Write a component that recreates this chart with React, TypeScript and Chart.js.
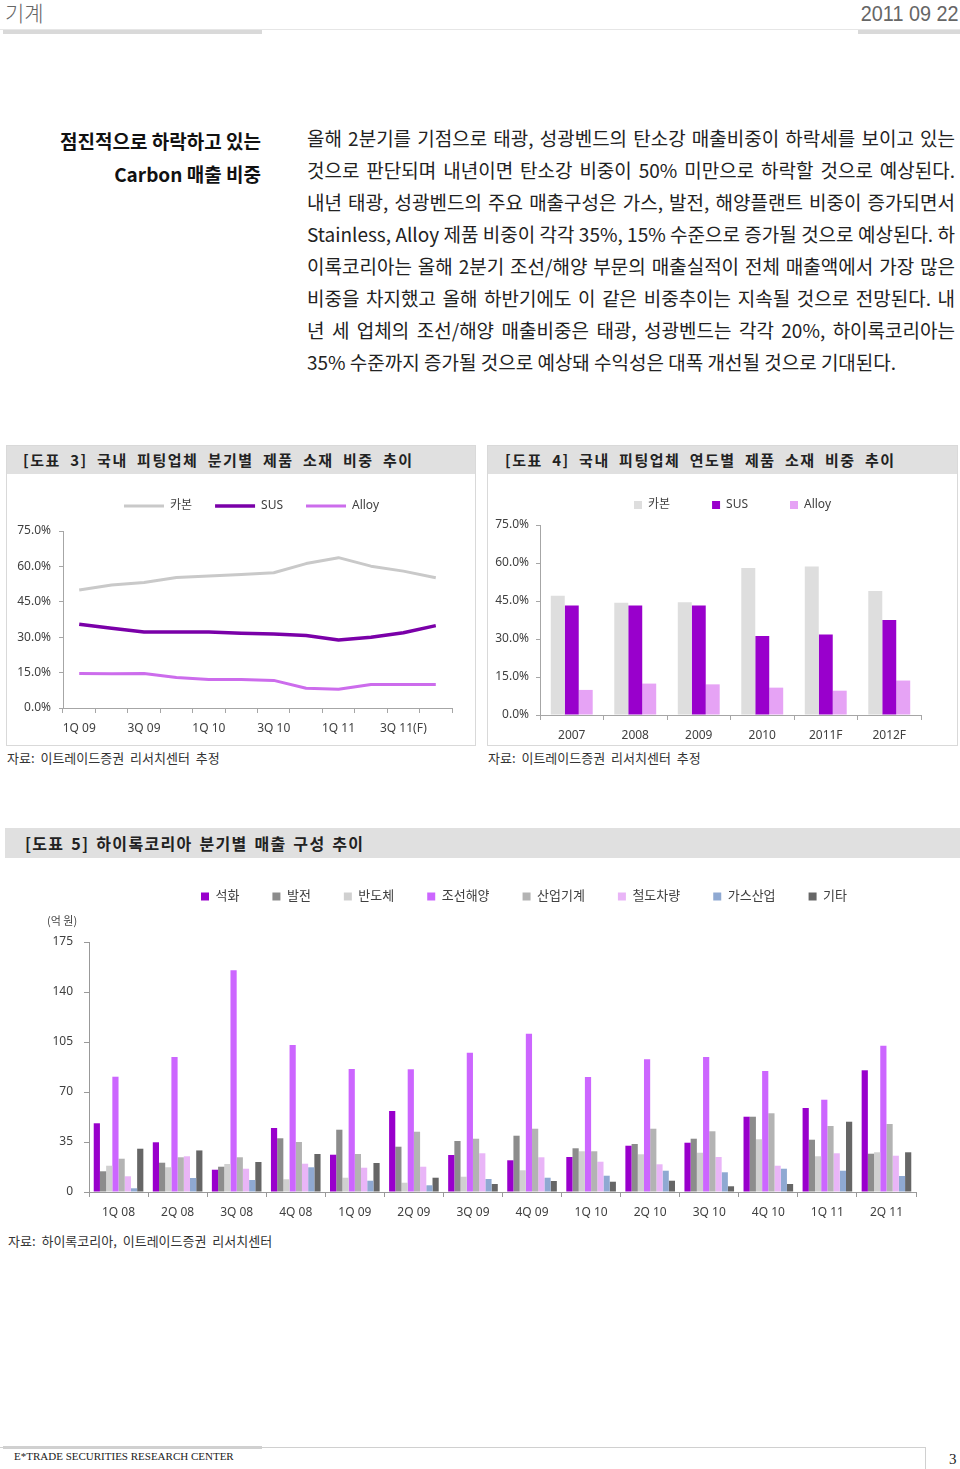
import React, { useEffect, useRef } from 'react';
import { Chart, registerables } from 'chart.js';

Chart.register(...registerables);

const LATIN = "'Noto Sans', 'Noto Sans CJK KR', sans-serif";
const HANGUL = "'Noto Sans CJK KR', 'Noto Sans', sans-serif";
const TEXT = '#404040';
const AXIS = '#a6a6a6';

// [도표 3] 국내 피팅업체 분기별 제품 소재 비중 추이 (%)
const quarterLabels3 = ['1Q 09', '2Q 09', '3Q 09', '4Q 09', '1Q 10', '2Q 10', '3Q 10', '4Q 10', '1Q 11', '2Q 11', '3Q 11(F)', '4Q 11(F)'];
const carbonShareQ = [50.0, 52.1, 53.2, 55.3, 55.9, 56.6, 57.3, 61.2, 63.7, 60.1, 58.0, 55.2];
const susShareQ = [35.5, 33.8, 32.2, 32.2, 32.2, 31.7, 31.4, 30.7, 28.8, 30.0, 31.9, 34.9];
const alloyShareQ = [14.6, 14.5, 14.6, 12.9, 12.1, 12.1, 11.7, 8.4, 7.9, 10.0, 10.0, 10.0];

// [도표 4] 국내 피팅업체 연도별 제품 소재 비중 추이 (%)
const yearLabels4 = ['2007', '2008', '2009', '2010', '2011F', '2012F'];
const carbonShareY = [47.1, 44.3, 44.5, 58.0, 58.6, 48.9];
const susShareY = [43.2, 43.2, 43.2, 31.2, 31.8, 37.5];
const alloyShareY = [9.9, 12.4, 12.1, 10.8, 9.6, 13.6];

// [도표 5] 하이록코리아 분기별 매출 구성 추이 (억 원)
const quarterLabels5 = ['1Q 08', '2Q 08', '3Q 08', '4Q 08', '1Q 09', '2Q 09', '3Q 09', '4Q 09', '1Q 10', '2Q 10', '3Q 10', '4Q 10', '1Q 11', '2Q 11'];
const petrochem = [48.1, 34.8, 15.6, 44.8, 26.1, 56.7, 25.9, 22.2, 24.5, 32.4, 34.5, 52.7, 58.8, 85.2];
const power = [14.5, 20.5, 17.7, 37.6, 43.6, 31.7, 35.7, 39.4, 30.6, 33.6, 37.3, 52.7, 36.6, 26.8];
const semicon = [18.4, 17.3, 19.6, 8.9, 10.0, 6.5, 10.7, 15.2, 28.5, 26.4, 27.5, 36.9, 25.0, 27.8];
const shipOffshore = [80.7, 94.5, 155.2, 102.9, 86.1, 85.9, 97.5, 110.8, 80.5, 92.9, 94.5, 84.7, 64.6, 102.4];
const machinery = [23.3, 24.3, 24.3, 35.0, 26.6, 42.2, 37.3, 44.3, 28.5, 44.3, 42.5, 55.1, 46.2, 47.6];
const railway = [11.0, 25.0, 16.3, 19.8, 17.0, 17.7, 27.1, 24.3, 21.2, 19.4, 24.5, 18.4, 27.1, 25.4];
const gasIndustry = [2.6, 9.8, 8.4, 17.3, 7.9, 4.7, 9.1, 10.0, 11.4, 14.9, 13.8, 16.3, 14.9, 11.2];
const others = [30.3, 29.1, 21.0, 26.6, 20.3, 10.0, 5.6, 7.7, 7.2, 7.9, 4.0, 5.6, 49.2, 27.8];

const bodyLines = [
  '올해 2분기를 기점으로 태광, 성광벤드의 탄소강 매출비중이 하락세를 보이고 있는',
  '것으로 판단되며 내년이면 탄소강 비중이 50% 미만으로 하락할 것으로 예상된다.',
  '내년 태광, 성광벤드의 주요 매출구성은 가스, 발전, 해양플랜트 비중이 증가되면서',
  'Stainless, Alloy 제품 비중이 각각 35%, 15% 수준으로 증가될 것으로 예상된다. 하',
  '이록코리아는 올해 2분기 조선/해양 부문의 매출실적이 전체 매출액에서 가장 많은',
  '비중을 차지했고 올해 하반기에도 이 같은 비중추이는 지속될 것으로 전망된다. 내',
  '년 세 업체의 조선/해양 매출비중은 태광, 성광벤드는 각각 20%, 하이록코리아는',
  '35% 수준까지 증가될 것으로 예상돼 수익성은 대폭 개선될 것으로 기대된다.',
];

function legendTweak(extraHeight: number, shiftX: number) {
  return {
    id: 'legendTweak',
    beforeInit(chart: any) {
      const legend = chart.legend;
      if (!legend) return;
      const fit = legend.fit;
      legend.fit = function () {
        fit.call(legend);
        legend.height += extraHeight;
      };
    },
    afterLayout(chart: any) {
      const legend = chart.legend;
      if (!legend) return;
      legend.left += shiftX;
      legend.right += shiftX;
    },
  };
}

const tickFont = { family: LATIN, size: 12 };

function pctAxis(width: number, pad: number) {
  return {
    min: 0,
    max: 75,
    ticks: { stepSize: 15, padding: pad, color: TEXT, font: tickFont, callback: (v: any) => Number(v).toFixed(1) + '%' },
    grid: { drawOnChartArea: false, tickLength: 4, color: AXIS },
    border: { color: AXIS },
    afterFit: (s: any) => { s.width = width; },
  };
}

function makeChart3(): any {
  return {
    type: 'line',
    data: {
      labels: quarterLabels3,
      datasets: [
        { label: '카본', data: carbonShareQ, borderColor: '#c9c9c9', backgroundColor: '#c9c9c9', borderWidth: 3, pointRadius: 0, tension: 0, borderJoinStyle: 'round' },
        { label: 'SUS', data: susShareQ, borderColor: '#7a00a8', backgroundColor: '#7a00a8', borderWidth: 3.5, pointRadius: 0, tension: 0, borderJoinStyle: 'round' },
        { label: 'Alloy', data: alloyShareQ, borderColor: '#cc6cec', backgroundColor: '#cc6cec', borderWidth: 3, pointRadius: 0, tension: 0, borderJoinStyle: 'round' },
      ],
    },
    options: {
      animation: false,
      responsive: false,
      events: [],
      layout: { padding: { left: 0, right: 23, top: 0, bottom: 0 } },
      plugins: {
        tooltip: { enabled: false },
        legend: {
          position: 'top',
          labels: { usePointStyle: true, pointStyle: 'line', pointStyleWidth: 40, padding: 23, color: TEXT, font: tickFont },
        },
      },
      scales: {
        x: {
          offset: true,
          grid: { offset: true, drawOnChartArea: false, tickLength: 5, color: AXIS },
          border: { color: AXIS },
          ticks: {
            autoSkip: false, maxRotation: 0, padding: 8, color: TEXT, font: tickFont,
            callback: (_v: any, i: number) => (i % 2 === 0 ? quarterLabels3[i] : ''),
          },
          afterFit: (s: any) => { s.height = 37; },
        },
        y: pctAxis(56, 8),
      },
    },
    plugins: [legendTweak(9, 22)],
  };
}

function makeChart4(): any {
  return {
    type: 'bar',
    data: {
      labels: yearLabels4,
      datasets: [
        { label: '카본', data: carbonShareY, backgroundColor: '#dedede' },
        { label: 'SUS', data: susShareY, backgroundColor: '#9900cc' },
        { label: 'Alloy', data: alloyShareY, backgroundColor: '#e6a3f5' },
      ],
    },
    options: {
      animation: false,
      responsive: false,
      events: [],
      layout: { padding: { left: 0, right: 36, top: 0, bottom: 0 } },
      datasets: { bar: { barPercentage: 1, categoryPercentage: 0.66 } },
      plugins: {
        tooltip: { enabled: false },
        legend: {
          position: 'top',
          labels: { boxWidth: 8, boxHeight: 8, padding: 42, color: TEXT, font: tickFont },
        },
      },
      scales: {
        x: {
          grid: { offset: true, drawOnChartArea: false, tickLength: 5, color: AXIS },
          border: { color: AXIS },
          ticks: { autoSkip: false, maxRotation: 0, padding: 8, color: TEXT, font: tickFont },
          afterFit: (s: any) => { s.height = 30; },
        },
        y: pctAxis(52, 7),
      },
    },
    plugins: [legendTweak(4, 28)],
  };
}

function makeChart5(): any {
  const series: [string, number[], string][] = [
    ['석화', petrochem, '#9900cc'],
    ['발전', power, '#8c8c8c'],
    ['반도체', semicon, '#d0d0d0'],
    ['조선해양', shipOffshore, '#cc66ff'],
    ['산업기계', machinery, '#b3b3b3'],
    ['철도차량', railway, '#e9b5f7'],
    ['가스산업', gasIndustry, '#8fa9d2'],
    ['기타', others, '#666666'],
  ];
  return {
    type: 'bar',
    data: {
      labels: quarterLabels5,
      datasets: series.map(([label, data, color]) => ({ label, data, backgroundColor: color })),
    },
    options: {
      animation: false,
      responsive: false,
      events: [],
      layout: { padding: { left: 0, right: 44, top: 0, bottom: 0 } },
      datasets: { bar: { barPercentage: 1, categoryPercentage: 0.84 } },
      plugins: {
        tooltip: { enabled: false },
        legend: {
          position: 'top',
          labels: { boxWidth: 8, boxHeight: 8, padding: 33, color: TEXT, font: { family: LATIN, size: 13 } },
        },
      },
      scales: {
        x: {
          grid: { offset: true, drawOnChartArea: false, tickLength: 5, color: '#999999' },
          border: { color: '#999999' },
          ticks: { autoSkip: false, maxRotation: 0, padding: 8, color: TEXT, font: tickFont },
          afterFit: (s: any) => { s.height = 38; },
        },
        y: {
          min: 0,
          max: 175,
          ticks: { stepSize: 35, padding: 11, color: TEXT, font: tickFont },
          grid: { drawOnChartArea: false, tickLength: 5, color: '#999999' },
          border: { color: '#999999' },
          afterFit: (s: any) => { s.width = 89; },
        },
      },
    },
    plugins: [legendTweak(29, 66)],
  };
}

function ChartCanvas({ make, left, top, width, height }: { make: () => any; left: number; top: number; width: number; height: number }) {
  const ref = useRef<HTMLCanvasElement>(null);
  useEffect(() => {
    const chart = new Chart(ref.current as HTMLCanvasElement, make());
    return () => chart.destroy();
  }, []);
  return (
    <canvas
      ref={ref}
      width={width}
      height={height}
      style={{ position: 'absolute', left, top, width, height, display: 'block' }}
    />
  );
}

const abs = (o: React.CSSProperties): React.CSSProperties => ({ position: 'absolute', ...o });

function TitleBar({ left, top, width, text, textLeft }: { left: number; top: number; width: number; text: string; textLeft: number }) {
  return (
    <>
      <div style={abs({ left, top, width, height: 28, background: '#e0e0e0' })} />
      <div
        style={abs({
          left: textLeft, top, height: 28, lineHeight: '28px', fontSize: 15, fontWeight: 700, color: '#222',
          letterSpacing: 1.5, wordSpacing: 4.5, whiteSpace: 'nowrap', fontFamily: HANGUL,
        })}
      >
        {text}
      </div>
    </>
  );
}

const sourceStyle = (left: number, top: number): React.CSSProperties =>
  abs({ left, top, fontSize: 13, lineHeight: '16px', color: '#333', whiteSpace: 'nowrap', fontFamily: HANGUL, wordSpacing: 3 });

export default function App() {
  return (
    <div style={{ position: 'absolute', left: 0, top: 0, width: 960, height: 1469, overflow: 'hidden', background: '#fff', fontFamily: HANGUL }}>
      {/* header */}
      <div style={abs({ left: 5, top: 0, fontSize: 21, lineHeight: '24px', color: '#666', fontWeight: 300 })}>기계</div>
      <div
        style={abs({
          right: 2, top: 2, fontSize: 22, lineHeight: '24px', color: '#666', fontFamily: "'Liberation Sans', Arial, sans-serif",
          transform: 'scaleX(0.9)', transformOrigin: 'right top', whiteSpace: 'nowrap',
        })}
      >
        2011 09 22
      </div>
      <div style={abs({ left: 0, top: 29, width: 960, height: 1, background: '#e6e6e6' })} />
      <div style={abs({ left: 3, top: 30, width: 259, height: 4, background: '#d9d9d9' })} />
      <div style={abs({ left: 858, top: 30, width: 102, height: 4, background: '#d9d9d9' })} />

      {/* side heading */}
      {['점진적으로 하락하고 있는', 'Carbon 매출 비중'].map((t, i) => (
        <div
          key={i}
          style={abs({
            right: 699, top: 124 + i * 33, fontSize: 19, lineHeight: '33px', fontWeight: 700, color: '#111',
            whiteSpace: 'nowrap', textAlign: 'right',
          })}
        >
          {t}
        </div>
      ))}

      {/* body */}
      {bodyLines.map((t, i) => (
        <div
          key={i}
          style={abs({
            left: 307, top: 122 + i * 32, width: 648, fontSize: 19, lineHeight: '32px', color: '#222',
            textAlign: i < bodyLines.length - 1 ? 'justify' : 'left',
            textAlignLast: i < bodyLines.length - 1 ? 'justify' : 'left',
            whiteSpace: 'nowrap',
          } as React.CSSProperties)}
        >
          {t}
        </div>
      ))}

      {/* chart 3 */}
      <div style={abs({ left: 6, top: 445, width: 470, height: 301, border: '1px solid #d9d9d9', boxSizing: 'border-box' })} />
      <TitleBar left={7} top={446} width={468} text="[도표 3] 국내 피팅업체 분기별 제품 소재 비중 추이" textLeft={23} />
      <ChartCanvas make={makeChart3} left={7} top={477} width={468} height={268} />
      <div style={sourceStyle(7, 750)}>자료: 이트레이드증권 리서치센터 추정</div>

      {/* chart 4 */}
      <div style={abs({ left: 487, top: 445, width: 471, height: 301, border: '1px solid #d9d9d9', boxSizing: 'border-box' })} />
      <TitleBar left={488} top={446} width={469} text="[도표 4] 국내 피팅업체 연도별 제품 소재 비중 추이" textLeft={505} />
      <ChartCanvas make={makeChart4} left={488} top={457} width={469} height={288} />
      <div style={sourceStyle(488, 750)}>자료: 이트레이드증권 리서치센터 추정</div>

      {/* chart 5 */}
      <div style={abs({ left: 5, top: 828, width: 955, height: 30, background: '#e0e0e0' })} />
      <div
        style={abs({
          left: 25, top: 828, height: 30, lineHeight: '30px', fontSize: 16, fontWeight: 700, color: '#222',
          letterSpacing: 1.3, wordSpacing: 2, whiteSpace: 'nowrap',
        })}
      >
        [도표 5] 하이록코리아 분기별 매출 구성 추이
      </div>
      <ChartCanvas make={makeChart5} left={0} top={857} width={960} height={373} />
      <div style={abs({ left: 47, top: 912, fontSize: 11, lineHeight: '16px', color: '#444', whiteSpace: 'nowrap' })}>(억 원)</div>
      <div style={sourceStyle(8, 1233)}>자료: 하이록코리아, 이트레이드증권 리서치센터</div>

      {/* footer */}
      <div style={abs({ left: 0, top: 1447, width: 925, height: 1, background: '#d0d0d0' })} />
      <div style={abs({ left: 3, top: 1446, width: 259, height: 3, background: '#d0d0d0' })} />
      <div style={abs({ left: 925, top: 1447, width: 1, height: 22, background: '#d0d0d0' })} />
      <div
        style={abs({
          left: 14, top: 1450, fontSize: 11, lineHeight: '12px', color: '#222', whiteSpace: 'nowrap',
          fontFamily: "'Liberation Serif', 'Times New Roman', serif",
        })}
      >
        E*TRADE SECURITIES RESEARCH CENTER
      </div>
      <div
        style={abs({
          left: 949, top: 1451, fontSize: 15, lineHeight: '16px', color: '#222',
          fontFamily: "'Liberation Serif', 'Times New Roman', serif",
        })}
      >
        3
      </div>
    </div>
  );
}
